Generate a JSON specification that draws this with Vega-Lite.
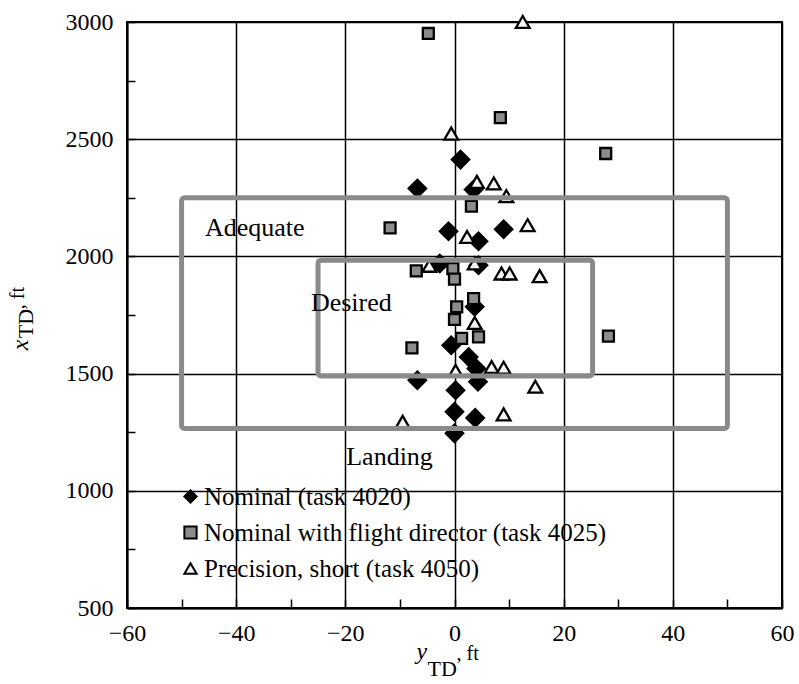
{
  "$schema": "https://vega.github.io/schema/vega-lite/v6.json",
  "width": 655,
  "height": 586,
  "autosize": {"type": "none"},
  "padding": {"left": 127, "top": 22, "right": 17, "bottom": 76},
  "background": "white",
  "config": {
    "view": {"stroke": "black", "strokeWidth": 2},
    "font": "Liberation Serif",
    "axis": {"labelFont": "Liberation Serif", "titleFont": "Liberation Serif"},
    "legend": {"labelFont": "Liberation Serif", "labelFontSize": 25, "labelColor": "black", "labelLimit": 600, "rowPadding": 10, "padding": 0, "labelOffset": 1, "symbolSize": 150, "symbolStrokeColor": "black", "symbolStrokeWidth": 2}
  },
  "datasets": {
    "points": [
      {"series": "Nominal (task 4020)", "lateral": 1.1, "longitudinal": 2413},
      {"series": "Nominal (task 4020)", "lateral": -6.8, "longitudinal": 2290},
      {"series": "Nominal (task 4020)", "lateral": 3.5, "longitudinal": 2285},
      {"series": "Nominal (task 4020)", "lateral": -1.1, "longitudinal": 2107},
      {"series": "Nominal (task 4020)", "lateral": 4.4, "longitudinal": 2065},
      {"series": "Nominal (task 4020)", "lateral": 9.0, "longitudinal": 2116},
      {"series": "Nominal (task 4020)", "lateral": -2.7, "longitudinal": 1970},
      {"series": "Nominal (task 4020)", "lateral": 4.4, "longitudinal": 1962},
      {"series": "Nominal (task 4020)", "lateral": 3.7, "longitudinal": 1785},
      {"series": "Nominal (task 4020)", "lateral": -0.6, "longitudinal": 1621},
      {"series": "Nominal (task 4020)", "lateral": 2.6, "longitudinal": 1571},
      {"series": "Nominal (task 4020)", "lateral": 4.0, "longitudinal": 1522},
      {"series": "Nominal (task 4020)", "lateral": -6.8, "longitudinal": 1472},
      {"series": "Nominal (task 4020)", "lateral": 4.3, "longitudinal": 1465},
      {"series": "Nominal (task 4020)", "lateral": 0.2, "longitudinal": 1429},
      {"series": "Nominal (task 4020)", "lateral": 0.0, "longitudinal": 1337},
      {"series": "Nominal (task 4020)", "lateral": 3.8, "longitudinal": 1311},
      {"series": "Nominal (task 4020)", "lateral": 0.0, "longitudinal": 1245},
      {"series": "Nominal with flight director (task 4025)", "lateral": -4.8, "longitudinal": 2951},
      {"series": "Nominal with flight director (task 4025)", "lateral": 8.4, "longitudinal": 2592},
      {"series": "Nominal with flight director (task 4025)", "lateral": 27.7, "longitudinal": 2439},
      {"series": "Nominal with flight director (task 4025)", "lateral": 3.1, "longitudinal": 2214},
      {"series": "Nominal with flight director (task 4025)", "lateral": -11.8, "longitudinal": 2122},
      {"series": "Nominal with flight director (task 4025)", "lateral": -7.0, "longitudinal": 1938},
      {"series": "Nominal with flight director (task 4025)", "lateral": -0.3, "longitudinal": 1948},
      {"series": "Nominal with flight director (task 4025)", "lateral": 0.0, "longitudinal": 1903},
      {"series": "Nominal with flight director (task 4025)", "lateral": 3.5, "longitudinal": 1820},
      {"series": "Nominal with flight director (task 4025)", "lateral": 0.4, "longitudinal": 1785},
      {"series": "Nominal with flight director (task 4025)", "lateral": 0.0, "longitudinal": 1731},
      {"series": "Nominal with flight director (task 4025)", "lateral": 28.2, "longitudinal": 1660},
      {"series": "Nominal with flight director (task 4025)", "lateral": 1.3, "longitudinal": 1650},
      {"series": "Nominal with flight director (task 4025)", "lateral": 4.4, "longitudinal": 1657},
      {"series": "Nominal with flight director (task 4025)", "lateral": -7.8, "longitudinal": 1610},
      {"series": "Precision, short (task 4050)", "lateral": 12.5, "longitudinal": 3000},
      {"series": "Precision, short (task 4050)", "lateral": -0.6, "longitudinal": 2524},
      {"series": "Precision, short (task 4050)", "lateral": 4.1, "longitudinal": 2318},
      {"series": "Precision, short (task 4050)", "lateral": 7.2, "longitudinal": 2311},
      {"series": "Precision, short (task 4050)", "lateral": 9.5, "longitudinal": 2257},
      {"series": "Precision, short (task 4050)", "lateral": 2.3, "longitudinal": 2083},
      {"series": "Precision, short (task 4050)", "lateral": 13.4, "longitudinal": 2133},
      {"series": "Precision, short (task 4050)", "lateral": -4.6, "longitudinal": 1960},
      {"series": "Precision, short (task 4050)", "lateral": 3.7, "longitudinal": 1970},
      {"series": "Precision, short (task 4050)", "lateral": 8.6, "longitudinal": 1927},
      {"series": "Precision, short (task 4050)", "lateral": 10.1, "longitudinal": 1927},
      {"series": "Precision, short (task 4050)", "lateral": 15.6, "longitudinal": 1916},
      {"series": "Precision, short (task 4050)", "lateral": 3.7, "longitudinal": 1716},
      {"series": "Precision, short (task 4050)", "lateral": 6.8, "longitudinal": 1528},
      {"series": "Precision, short (task 4050)", "lateral": 9.0, "longitudinal": 1525},
      {"series": "Precision, short (task 4050)", "lateral": 0.2, "longitudinal": 1512},
      {"series": "Precision, short (task 4050)", "lateral": 14.8, "longitudinal": 1444},
      {"series": "Precision, short (task 4050)", "lateral": 9.0, "longitudinal": 1326},
      {"series": "Precision, short (task 4050)", "lateral": -9.5, "longitudinal": 1294}
    ],
    "boxes": [
      {"box": "Adequate", "x1": -50, "x2": 50, "y1": 1266, "y2": 2250},
      {"box": "Desired", "x1": -25, "x2": 25.3, "y1": 1490, "y2": 1984}
    ],
    "labels": [
      {"label": "Adequate", "lx": -36.6, "ly": 2086},
      {"label": "Desired", "lx": -18.9, "ly": 1766},
      {"label": "Landing", "lx": -11.9, "ly": 1110}
    ]
  },
  "layer": [
    {
      "data": {"name": "points"},
      "mark": {"type": "point", "filled": true, "strokeWidth": 2.3, "opacity": 1},
      "encoding": {
        "x": {
          "field": "lateral", "type": "quantitative", "title": null,
          "scale": {"domain": [-60, 60], "nice": false, "zero": false},
          "axis": {
            "values": [-60, -50, -40, -30, -20, -10, 0, 10, 20, 30, 40, 50, 60],
            "grid": true, "gridColor": "black", "gridWidth": 1.5,
            "gridOpacity": {"condition": {"test": "datum.value % 20 === 0", "value": 1}, "value": 0},
            "tickColor": "black", "tickSize": -9, "tickWidth": 1.5,
            "labelExpr": "datum.value % 20 === 0 ? datum.label : ''",
            "labelFont": "Liberation Serif", "labelFontSize": 24, "labelColor": "black",
            "labelPadding": 22, "labelOverlap": false, "labelFlush": false,
            "domainColor": "black", "domainWidth": 2
          }
        },
        "y": {
          "field": "longitudinal", "type": "quantitative", "title": null,
          "scale": {"domain": [500, 3000], "nice": false, "zero": false},
          "axis": {
            "values": [500, 750, 1000, 1250, 1500, 1750, 2000, 2250, 2500, 2750, 3000],
            "grid": true, "gridColor": "black", "gridWidth": 1.5,
            "gridOpacity": {"condition": {"test": "datum.value % 500 === 0", "value": 1}, "value": 0},
            "tickColor": "black", "tickSize": -8, "tickWidth": 1.5,
            "labelExpr": "datum.value % 500 === 0 ? format(datum.value, 'd') : ''",
            "labelFont": "Liberation Serif", "labelFontSize": 24, "labelColor": "black",
            "labelPadding": 22, "labelOverlap": false, "labelFlush": false,
            "domainColor": "black", "domainWidth": 2
          }
        },
        "shape": {
          "field": "series", "type": "nominal",
          "scale": {"domain": ["Nominal (task 4020)", "Nominal with flight director (task 4025)", "Precision, short (task 4050)"], "range": ["diamond", "square", "triangle-up"]},
          "legend": {"title": null, "orient": "none", "legendX": 51, "legendY": 462}
        },
        "fill": {
          "field": "series", "type": "nominal",
          "scale": {"domain": ["Nominal (task 4020)", "Nominal with flight director (task 4025)", "Precision, short (task 4050)"], "range": ["black", "#8c8c8c", "#f4f4f4"]},
          "legend": {"title": null, "orient": "none", "legendX": 51, "legendY": 462}
        },
        "stroke": {
          "field": "series", "type": "nominal",
          "scale": {"domain": ["Nominal (task 4020)", "Nominal with flight director (task 4025)", "Precision, short (task 4050)"], "range": ["black", "black", "black"]},
          "legend": {"title": null, "orient": "none", "legendX": 51, "legendY": 462}
        },
        "size": {
          "condition": [
            {"test": "datum.series === 'Precision, short (task 4050)'", "value": 190},
            {"test": "datum.series === 'Nominal with flight director (task 4025)'", "value": 120}
          ],
          "value": 300
        }
      }
    },
    {
      "data": {"name": "boxes"},
      "mark": {"type": "rect", "filled": false, "stroke": "#8a8a8a", "strokeWidth": 5, "cornerRadius": 3},
      "encoding": {
        "x": {"field": "x1", "type": "quantitative", "title": null},
        "x2": {"field": "x2"},
        "y": {"field": "y1", "type": "quantitative", "title": null},
        "y2": {"field": "y2"}
      }
    },
    {
      "data": {"name": "labels"},
      "mark": {"type": "text", "font": "Liberation Serif", "fontSize": 26, "align": "center", "baseline": "alphabetic", "color": "black"},
      "encoding": {
        "x": {"field": "lx", "type": "quantitative", "title": null},
        "y": {"field": "ly", "type": "quantitative", "title": null},
        "text": {"field": "label"}
      }
    },
    {
      "data": {"values": [{"part": "y"}]},
      "mark": {"type": "text", "font": "Liberation Serif", "fontSize": 24, "fontStyle": "italic", "align": "left", "baseline": "alphabetic", "color": "black", "dx": -38, "dy": 51},
      "encoding": {"x": {"datum": 0}, "y": {"datum": 500}, "text": {"field": "part"}}
    },
    {
      "data": {"values": [{"part": "TD"}]},
      "mark": {"type": "text", "font": "Liberation Serif", "fontSize": 22, "align": "left", "baseline": "alphabetic", "color": "black", "dx": -27, "dy": 68},
      "encoding": {"x": {"datum": 0}, "y": {"datum": 500}, "text": {"field": "part"}}
    },
    {
      "data": {"values": [{"part": ", ft"}]},
      "mark": {"type": "text", "font": "Liberation Serif", "fontSize": 20, "align": "left", "baseline": "alphabetic", "color": "black", "dx": 2, "dy": 52},
      "encoding": {"x": {"datum": 0}, "y": {"datum": 500}, "text": {"field": "part"}}
    },
    {
      "data": {"values": [{"part": "x"}]},
      "mark": {"type": "text", "font": "Liberation Serif", "fontSize": 24, "fontStyle": "italic", "align": "left", "baseline": "alphabetic", "color": "black", "angle": 270, "dx": 0, "dy": -99},
      "encoding": {"x": {"datum": -60}, "y": {"datum": 1600}, "text": {"field": "part"}}
    },
    {
      "data": {"values": [{"part": "TD"}]},
      "mark": {"type": "text", "font": "Liberation Serif", "fontSize": 22, "align": "left", "baseline": "alphabetic", "color": "black", "angle": 270, "dx": 12, "dy": -94},
      "encoding": {"x": {"datum": -60}, "y": {"datum": 1600}, "text": {"field": "part"}}
    },
    {
      "data": {"values": [{"part": ", ft"}]},
      "mark": {"type": "text", "font": "Liberation Serif", "fontSize": 20, "align": "left", "baseline": "alphabetic", "color": "black", "angle": 270, "dx": 41, "dy": -103},
      "encoding": {"x": {"datum": -60}, "y": {"datum": 1600}, "text": {"field": "part"}}
    }
  ]
}
